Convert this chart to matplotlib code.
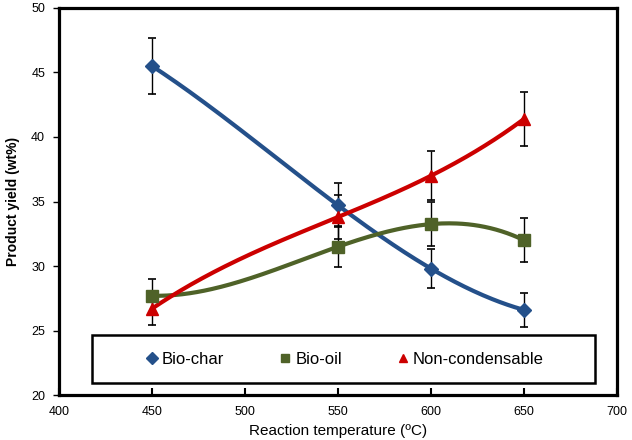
import numpy as np
import matplotlib
matplotlib.use("Agg")
import matplotlib.pyplot as plt
from matplotlib.lines import Line2D
from matplotlib.patches import Rectangle

plt.rcParams['font.family'] = ['Liberation Sans', 'DejaVu Sans']

temps = [450, 550, 600, 650]
biochar = [45.5, 34.7, 29.8, 26.6]
biochar_err = [2.2, 1.7, 1.5, 1.3]
biooil = [27.7, 31.5, 33.25, 32.0]
biooil_err = [1.3, 1.6, 1.7, 1.7]
noncond = [26.7, 33.8, 37.0, 41.4]
noncond_err = [1.3, 1.7, 1.9, 2.1]

names = ['Bio-char', 'Bio-oil', 'Non-condensable']
colors = ['#24508a', '#4f6228', '#cc0000']
markers = ['D', 's', '^']
msizes = [7, 8.5, 9]

fig = plt.figure(figsize=(6.32, 4.40), dpi=100)
ax = fig.add_axes([0.0934, 0.102, 0.883, 0.880])

xs = np.linspace(temps[0], temps[-1], 200)
for ys, es, c, m, ms in zip([biochar, biooil, noncond], [biochar_err, biooil_err, noncond_err],
                            colors, markers, msizes):
    # 3rd order polynomial trendline through the points
    coef = np.polyfit(temps, ys, 3)
    ax.plot(xs, np.polyval(coef, xs), color=c, lw=3.0, solid_capstyle='round', zorder=2)
    ax.errorbar(temps, ys, yerr=es, fmt='none', ecolor='black', elinewidth=1,
                capsize=3, capthick=1.2, zorder=3)
    ax.plot(temps, ys, ls='none', marker=m, color=c, ms=ms, zorder=4)

ax.set_xlim(400, 700)
ax.set_ylim(20, 50)
ax.set_xticks(np.arange(400, 701, 50))
ax.set_yticks(np.arange(20, 51, 5))
ax.tick_params(axis='x', direction='in', length=5, width=1.5, labelsize=9, pad=8)
ax.tick_params(axis='y', direction='out', length=4, width=1, labelsize=9, pad=6)
for s in ax.spines.values():
    s.set_linewidth(2.3)

ax.set_ylabel('Product yield (wt%)', fontsize=10, fontweight='bold', labelpad=8)
ax.set_xlabel('Reaction temperature (ºC)', fontsize=11, labelpad=4)

# legend box
box = Rectangle((0.059, 0.031), 0.901, 0.124, transform=ax.transAxes,
                fill=False, edgecolor='black', lw=1.8, zorder=5)
ax.add_patch(box)
handles = [Line2D([], [], ls='none', marker=m, color=c, ms=6) for m, c in zip(markers, colors)]
leg = ax.legend(handles, names, ncol=3, loc='center',
                bbox_to_anchor=(0.059 + 0.901 / 2 + 0.002, 0.031 + 0.062),
                frameon=False, fontsize=12,
                handletextpad=0.2, columnspacing=3.25, handlelength=0.8)
leg.set_zorder(6)

fig.savefig('out.png', dpi=100)
